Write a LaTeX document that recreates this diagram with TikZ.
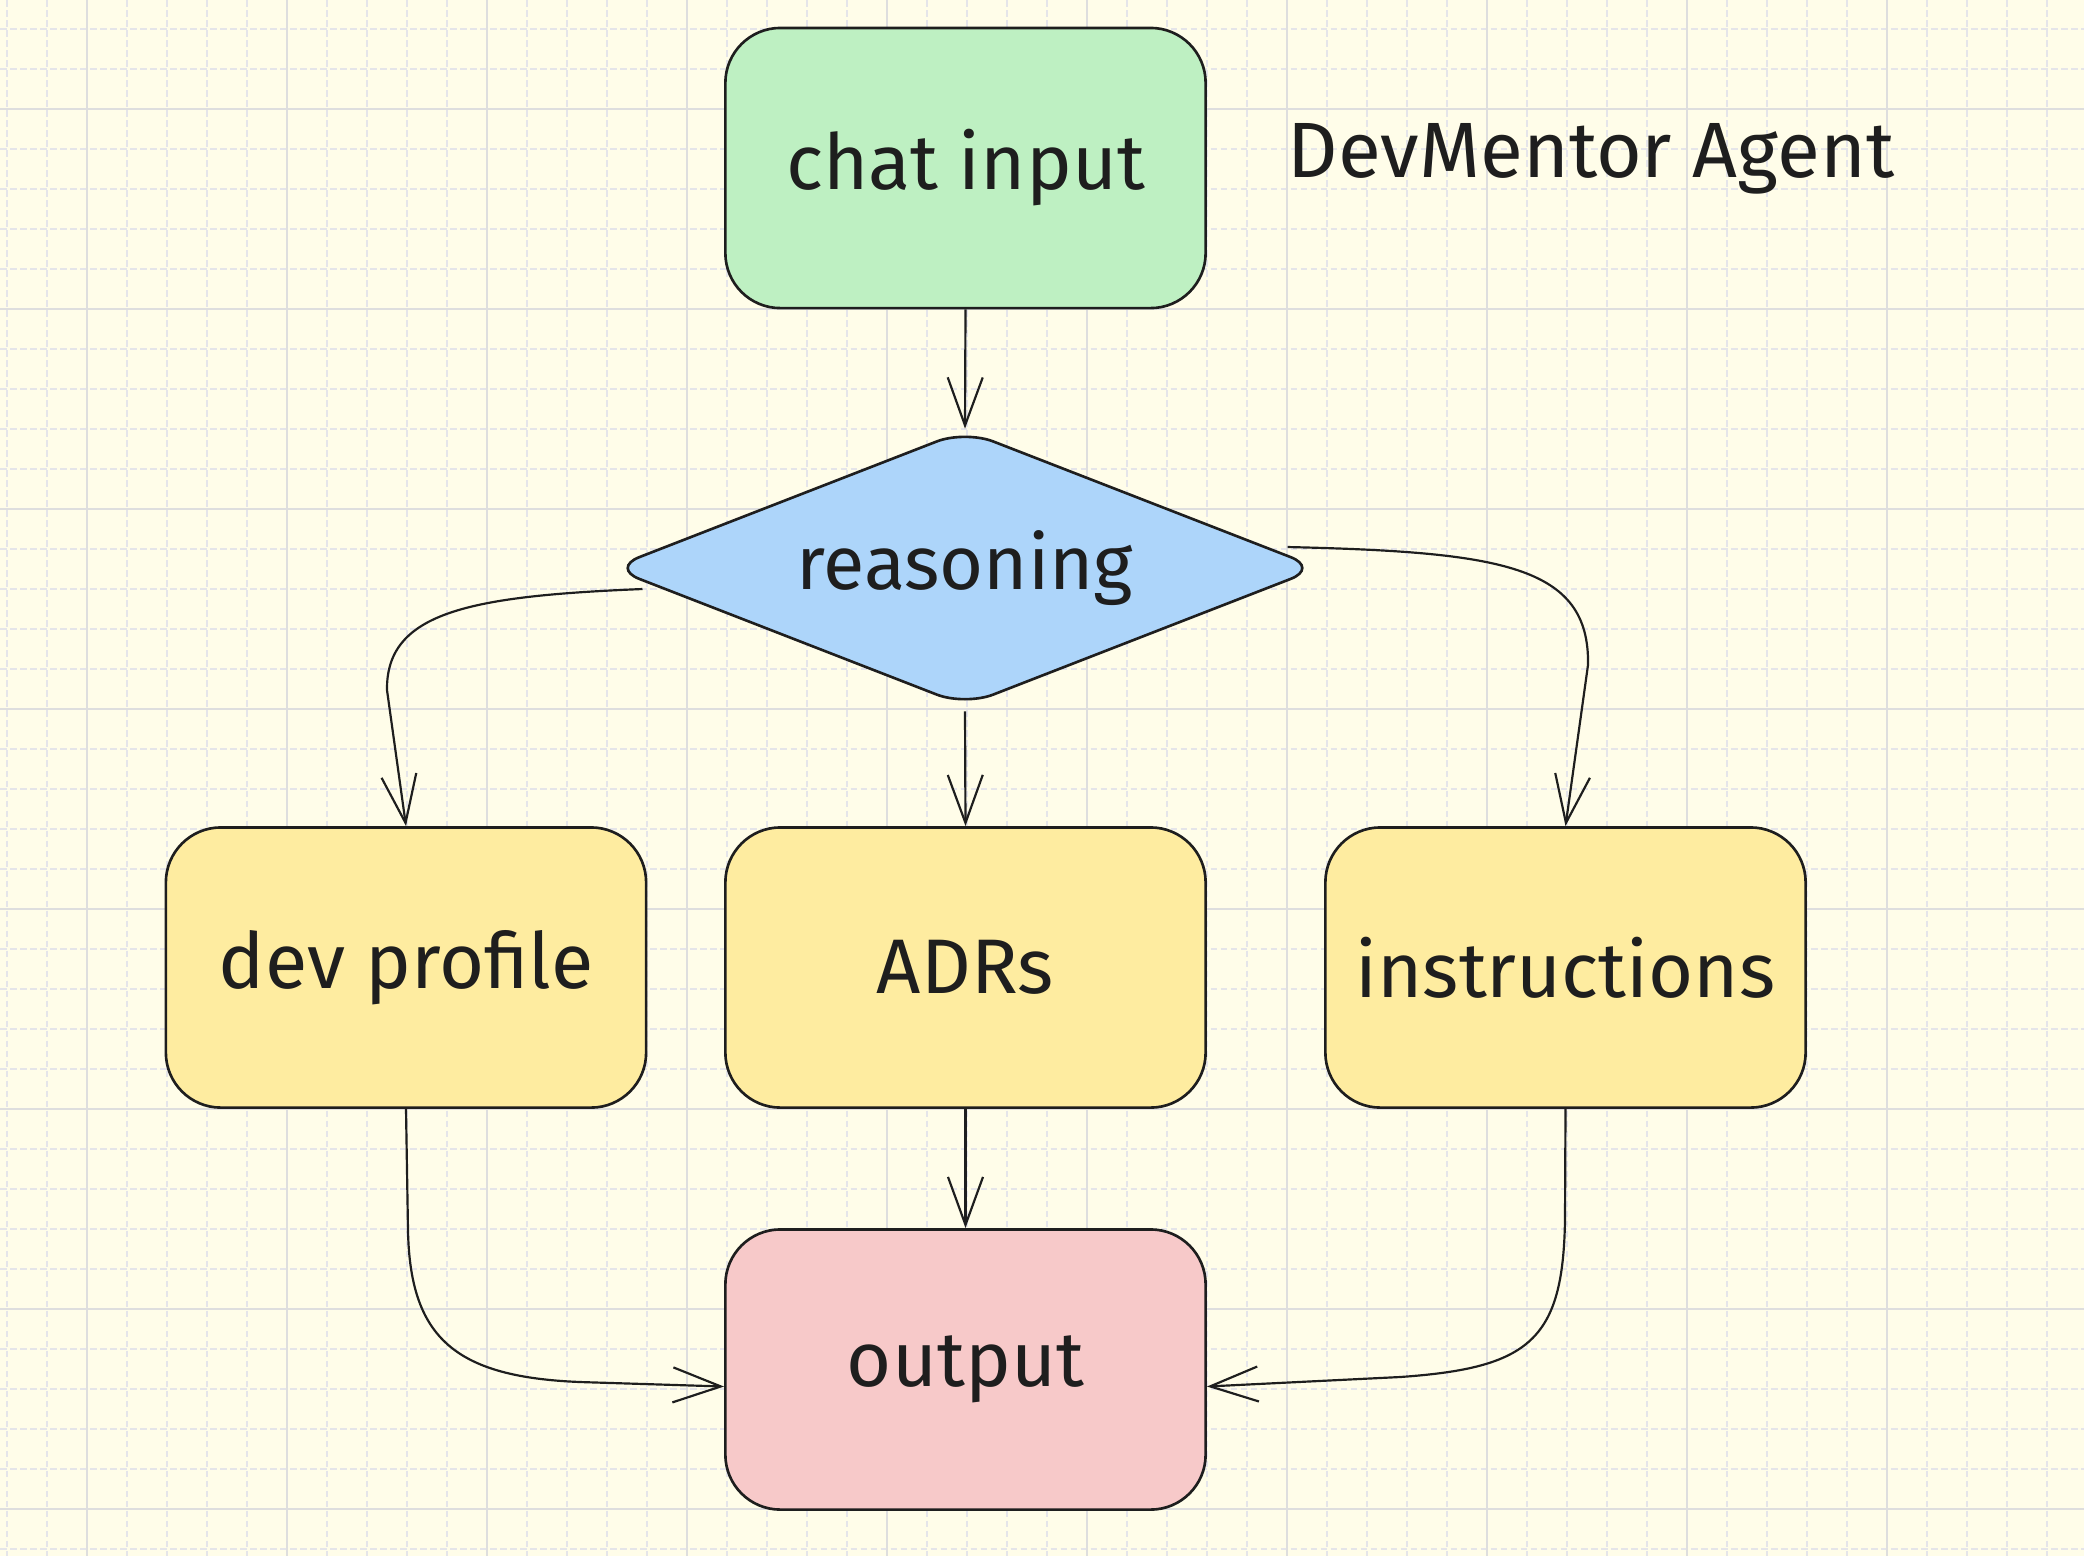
\documentclass[tikz,border=0pt]{standalone}
\usepackage{fontspec}
\setmainfont{Fira Sans}
\usetikzlibrary{shapes.geometric,arrows.meta,calc}
\definecolor{bg}{RGB}{255,253,233}
\definecolor{gmajor}{RGB}{222,222,222}
\definecolor{gminor}{RGB}{229,229,233}
\definecolor{ink}{RGB}{30,30,30}
\definecolor{cgreen}{RGB}{190,240,194}
\definecolor{cblue}{RGB}{173,213,250}
\definecolor{cyellow}{RGB}{254,236,160}
\definecolor{cpink}{RGB}{247,201,201}
\tikzset{
  minorline/.style={draw=gminor, line width=0.4pt, dash pattern=on 0.065cm off 0.035cm},
  majorline/.style={draw=gmajor, line width=0.5pt},
  box/.style={draw=ink, line width=0.75pt, rounded corners=0.55cm, minimum width=4.8cm,
    minimum height=2.8cm, inner sep=0pt, text=ink, font=\fontsize{22}{26}\selectfont},
  dia/.style={diamond, draw=ink, fill=cblue, line width=0.75pt, rounded corners=0.3cm,
    aspect=2.56, minimum width=7.08cm, minimum height=2.76cm, inner sep=0pt, text=ink,
    font=\fontsize{21.5}{26}\selectfont},
  titletext/.style={text=ink, inner sep=0pt, font=\fontsize{22.3}{27}\selectfont},
  arr/.style={draw=ink, line width=0.62pt, -{Straight Barb[length=0.48cm,width=0.35cm]}}
}
\begin{document}
\begin{tikzpicture}[x=0.01cm, y=-0.01cm]
  % background and grid
  \fill[bg] (0,0) rectangle (2084,1556);
  \useasboundingbox (0,0) rectangle (2084,1556);
  \foreach \i in {0,...,52} {
    \draw[minorline] ({7+40*\i},0) -- ({7+40*\i},1556);
  }
  \foreach \i in {0,...,38} {
    \draw[minorline] (0,{29+40*\i}) -- (2084,{29+40*\i});
  }
  \foreach \i in {0,...,10} {
    \draw[majorline] ({87+200*\i},0) -- ({87+200*\i},1556);
  }
  \foreach \i in {0,...,7} {
    \draw[majorline] (0,{109+200*\i}) -- (2084,{109+200*\i});
  }

  % nodes
  \node[box, fill=cgreen] (chat) at (965.5,168) {chat input};
  \node[dia] (r) at (965,568) {reasoning};
  \node[box, fill=cyellow] (dp) at (406,967.5) {dev profile};
  \node[box, fill=cyellow] (adr) at (965.5,967.5) {ADRs};
  \node[box, fill=cyellow] (ins) at (1565.5,967.5) {instructions};
  \node[box, fill=cpink] (out) at (965.5,1369.5) {output};
  \node[titletext, anchor=base west] (title) at (1287,177) {DevMentor Agent};

  % connectors
  \draw[arr] (chat.south) -- (r.north);
  \draw[arr] ($(r.west)+(33,21)$) .. controls (470,596) and (386,612) .. (387,690)
    -- (dp.north);
  \draw[arr] ($(r.east)+(-33,-21)$) .. controls (1500,552) and (1590,565) .. (1588,665)
    -- (ins.north);
  \draw[arr] ($(r.south)+(0,4)$) -- (adr.north);
  \draw[arr] (adr.south) -- (out.north);
  \draw[arr] (dp.south) -- (408,1230) .. controls (410,1338) and (455,1377) .. (580,1382)
    -- ($(out.west)+(0,17)$);
  \draw[arr] (ins.south) -- (1565,1220) .. controls (1563,1340) and (1530,1368) .. (1400,1377)
    -- ($(out.east)+(0,17)$);
\end{tikzpicture}
\end{document}
